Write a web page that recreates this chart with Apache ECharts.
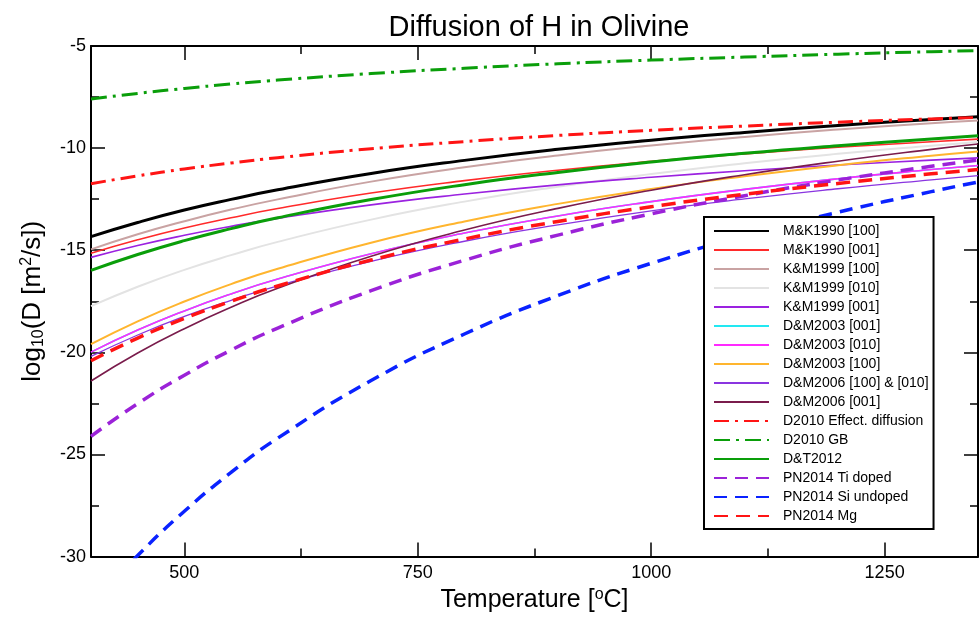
<!DOCTYPE html>
<html><head><meta charset="utf-8">
<script src="https://cdn.jsdelivr.net/npm/echarts@6/dist/echarts.min.js"></script>
<style>html,body{margin:0;padding:0;background:#fff}#c{width:980px;height:618px}</style>
</head><body><div id="c"></div>
<script>
// Temperatures (°C) at which the curves were read
const temps = [400, 450, 500, 550, 600, 700, 800, 900, 1000, 1100, 1200, 1300, 1350];

// log10(D) values
const mk1990_100   = [-14.33, -13.64, -13.03, -12.51, -12.04, -11.24, -10.60, -10.06, -9.61, -9.23, -8.89, -8.60, -8.47];
const mk1990_001   = [-15.15, -14.49, -13.91, -13.41, -12.96, -12.20, -11.59, -11.08, -10.65, -10.28, -9.96, -9.69, -9.56];
const km1999_100   = [-14.96, -14.22, -13.58, -13.01, -12.51, -11.64, -10.94, -10.36, -9.87, -9.45, -9.09, -8.78, -8.65];
const km1999_010   = [-17.74, -16.79, -15.96, -15.24, -14.59, -13.50, -12.62, -11.89, -11.27, -10.74, -10.28, -9.88, -9.70];
const km1999_001   = [-15.35, -14.77, -14.27, -13.83, -13.44, -12.78, -12.25, -11.80, -11.43, -11.11, -10.83, -10.59, -10.48];
const dm2003_001   = [-19.99, -18.91, -17.97, -17.14, -16.41, -15.17, -14.16, -13.32, -12.62, -12.02, -11.50, -11.05, -10.85];
const dm2003_010   = [-19.99, -18.91, -17.97, -17.14, -16.41, -15.17, -14.16, -13.32, -12.62, -12.02, -11.50, -11.05, -10.85];
const dm2003_100   = [-19.60, -18.48, -17.51, -16.66, -15.91, -14.63, -13.59, -12.73, -12.00, -11.38, -10.84, -10.37, -10.16];
const dm2006_100   = [-20.20, -19.15, -18.24, -17.45, -16.74, -15.54, -14.56, -13.76, -13.07, -12.49, -11.99, -11.55, -11.35];
const dm2006_001   = [-21.40, -20.03, -18.84, -17.79, -16.86, -15.29, -14.01, -12.95, -12.06, -11.30, -10.64, -10.06, -9.80];
const d2010_eff    = [-11.74, -11.36, -11.02, -10.73, -10.47, -10.03, -9.68, -9.38, -9.13, -8.92, -8.73, -8.57, -8.50];
const d2010_gb     = [-7.60, -7.32, -7.08, -6.86, -6.67, -6.35, -6.09, -5.87, -5.69, -5.54, -5.40, -5.28, -5.23];
const dt2012       = [-15.99, -15.21, -14.53, -13.94, -13.41, -12.52, -11.79, -11.19, -10.68, -10.25, -9.88, -9.55, -9.40];
const pn2014_ti    = [-24.11, -22.51, -21.12, -19.89, -18.81, -16.98, -15.49, -14.26, -13.22, -12.33, -11.56, -10.89, -10.58];
const pn2014_si    = [-32.40, -29.95, -27.78, -25.88, -24.20, -21.38, -19.10, -17.22, -15.64, -14.30, -13.14, -12.13, -11.66];
const pn2014_mg    = [-20.41, -19.30, -18.34, -17.50, -16.75, -15.48, -14.45, -13.59, -12.87, -12.26, -11.73, -11.26, -11.05];

// Axis ticks
const xMajorTicks = [500, 750, 1000, 1250];
const xMinorTicks = [625, 875, 1125];

const FONT = "'Liberation Sans', Arial, Helvetica, sans-serif";

const specs = [
  ['M&K1990 [100]', mk1990_100, '#000000', 3, 'solid'],
  ['M&K1990 [001]', mk1990_001, '#ff2a2a', 1.6, 'solid'],
  ['K&M1999 [100]', km1999_100, '#c9a3a3', 2, 'solid'],
  ['K&M1999 [010]', km1999_010, '#e3e3e3', 2, 'solid'],
  ['K&M1999 [001]', km1999_001, '#9b22e0', 1.6, 'solid'],
  ['D&M2003 [001]', dm2003_001, '#22e8f2', 1.6, 'solid'],
  ['D&M2003 [010]', dm2003_010, '#ff2aff', 1.6, 'solid'],
  ['D&M2003 [100]', dm2003_100, '#ffb52e', 2, 'solid'],
  ['D&M2006 [100] & [010]', dm2006_100, '#8a35e0', 1.3, 'solid'],
  ['D&M2006 [001]', dm2006_001, '#7a1c4c', 1.6, 'solid'],
  ['D2010 Effect. diffusion', d2010_eff, '#ff1414', 3, [15, 6, 3, 6]],
  ['D2010 GB', d2010_gb, '#0a9e0a', 3, [16, 6, 3, 6]],
  ['D&T2012', dt2012, '#0a9e0a', 3, 'solid'],
  ['PN2014 Ti doped', pn2014_ti, '#9b22d8', 3.5, [13, 8]],
  ['PN2014 Si undoped', pn2014_si, '#0a22ff', 3.5, [13, 8]],
  ['PN2014 Mg', pn2014_mg, '#ff1414', 3.5, [14, 8]]
];

const series = specs.map(s => ({
  name: s[0],
  type: 'line',
  xAxisIndex: 0,
  yAxisIndex: 0,
  data: temps.map((t, i) => [t, s[1][i]]),
  smooth: true,
  showSymbol: false,
  symbol: 'none',
  clip: true,
  animation: false,
  color: s[2],
  itemStyle: { color: s[2] },
  lineStyle: { color: s[2], width: s[3], type: s[4], cap: 'butt' }
}));

const baseX = {
  type: 'value', min: 400, max: 1350,
  splitLine: { show: false },
  axisLine: { show: true, onZero: false, lineStyle: { color: '#000', width: 2 } }
};
const baseY = {
  type: 'value', min: -30, max: -5, interval: 5,
  splitLine: { show: false },
  axisLine: { show: true, onZero: false, lineStyle: { color: '#000', width: 2 } }
};

const chart = echarts.init(document.getElementById('c'), null, { renderer: 'canvas' });
chart.setOption({
  animation: false,
  backgroundColor: '#fff',
  textStyle: { fontFamily: FONT },
  title: {
    text: 'Diffusion of H in Olivine',
    left: 534, top: 8, textAlign: 'center',
    textStyle: { fontFamily: FONT, fontSize: 29, fontWeight: 'normal', color: '#000' }
  },
  grid: { left: 91, right: 2, top: 46, bottom: 60, containLabel: false },
  legend: {
    orient: 'vertical',
    left: 704, top: 217,
    padding: [7, 5, 6, 9],
    itemGap: 5,
    itemWidth: 55,
    itemHeight: 14,
    selectedMode: false,
    backgroundColor: '#fff',
    borderColor: '#000',
    borderWidth: 2,
    borderRadius: 0,
    itemStyle: { opacity: 0, borderWidth: 0 },
    textStyle: { fontFamily: FONT, fontSize: 14, color: '#000', lineHeight: 14, padding: [0, 0, 0, 9] },
    data: specs.map(s => s[0])
  },
  xAxis: [
    Object.assign({}, baseX, {
      position: 'bottom',
      name: 'Temperature [{sup|o}C]',
      nameLocation: 'middle', nameGap: 29,
      nameTextStyle: {
        fontFamily: FONT, fontSize: 25, color: '#000',
        rich: { sup: { fontSize: 16, verticalAlign: 'top', fontFamily: FONT, color: '#000', padding: [0, 0, 12, 0] } }
      },
      axisTick: { show: true, inside: true, length: 14, customValues: xMajorTicks, lineStyle: { color: '#000', width: 1.5 } },
      axisLabel: { show: true, customValues: xMajorTicks, margin: 7, fontSize: 18, color: '#000', fontFamily: FONT,
        formatter: v => String(v) }
    }),
    Object.assign({}, baseX, {
      position: 'bottom',
      axisLine: { show: false },
      axisTick: { show: true, inside: true, length: 8, customValues: xMinorTicks, lineStyle: { color: '#000', width: 1.5 } },
      axisLabel: { show: false }
    }),
    Object.assign({}, baseX, {
      position: 'top',
      axisTick: { show: true, inside: true, length: 14, customValues: xMajorTicks, lineStyle: { color: '#000', width: 1.5 } },
      axisLabel: { show: false }
    }),
    Object.assign({}, baseX, {
      position: 'top',
      axisLine: { show: false },
      axisTick: { show: true, inside: true, length: 8, customValues: xMinorTicks, lineStyle: { color: '#000', width: 1.5 } },
      axisLabel: { show: false }
    })
  ],
  yAxis: [
    Object.assign({}, baseY, {
      position: 'left',
      name: 'log{sub|10}(D [m{sup|2}/s])',
      nameLocation: 'middle', nameGap: 44, nameRotate: 90,
      nameTextStyle: {
        fontFamily: FONT, fontSize: 26, color: '#000',
        rich: {
          sub: { fontSize: 16, verticalAlign: 'bottom', fontFamily: FONT, color: '#000', padding: [10, 0, 0, 0] },
          sup: { fontSize: 16, verticalAlign: 'top', fontFamily: FONT, color: '#000', padding: [0, 0, 12, 0] }
        }
      },
      axisTick: { show: true, inside: true, length: 14, lineStyle: { color: '#000', width: 1.5 } },
      minorTick: { show: true, splitNumber: 2, length: 8, lineStyle: { color: '#000', width: 1.5 } },
      axisLabel: { show: true, margin: 5, fontSize: 18, color: '#000', fontFamily: FONT }
    }),
    Object.assign({}, baseY, {
      position: 'right',
      axisTick: { show: true, inside: true, length: 14, lineStyle: { color: '#000', width: 1.5 } },
      minorTick: { show: true, splitNumber: 2, length: 8, lineStyle: { color: '#000', width: 1.5 } },
      axisLabel: { show: false }
    })
  ],
  series: series
});
</script>
</body></html>
